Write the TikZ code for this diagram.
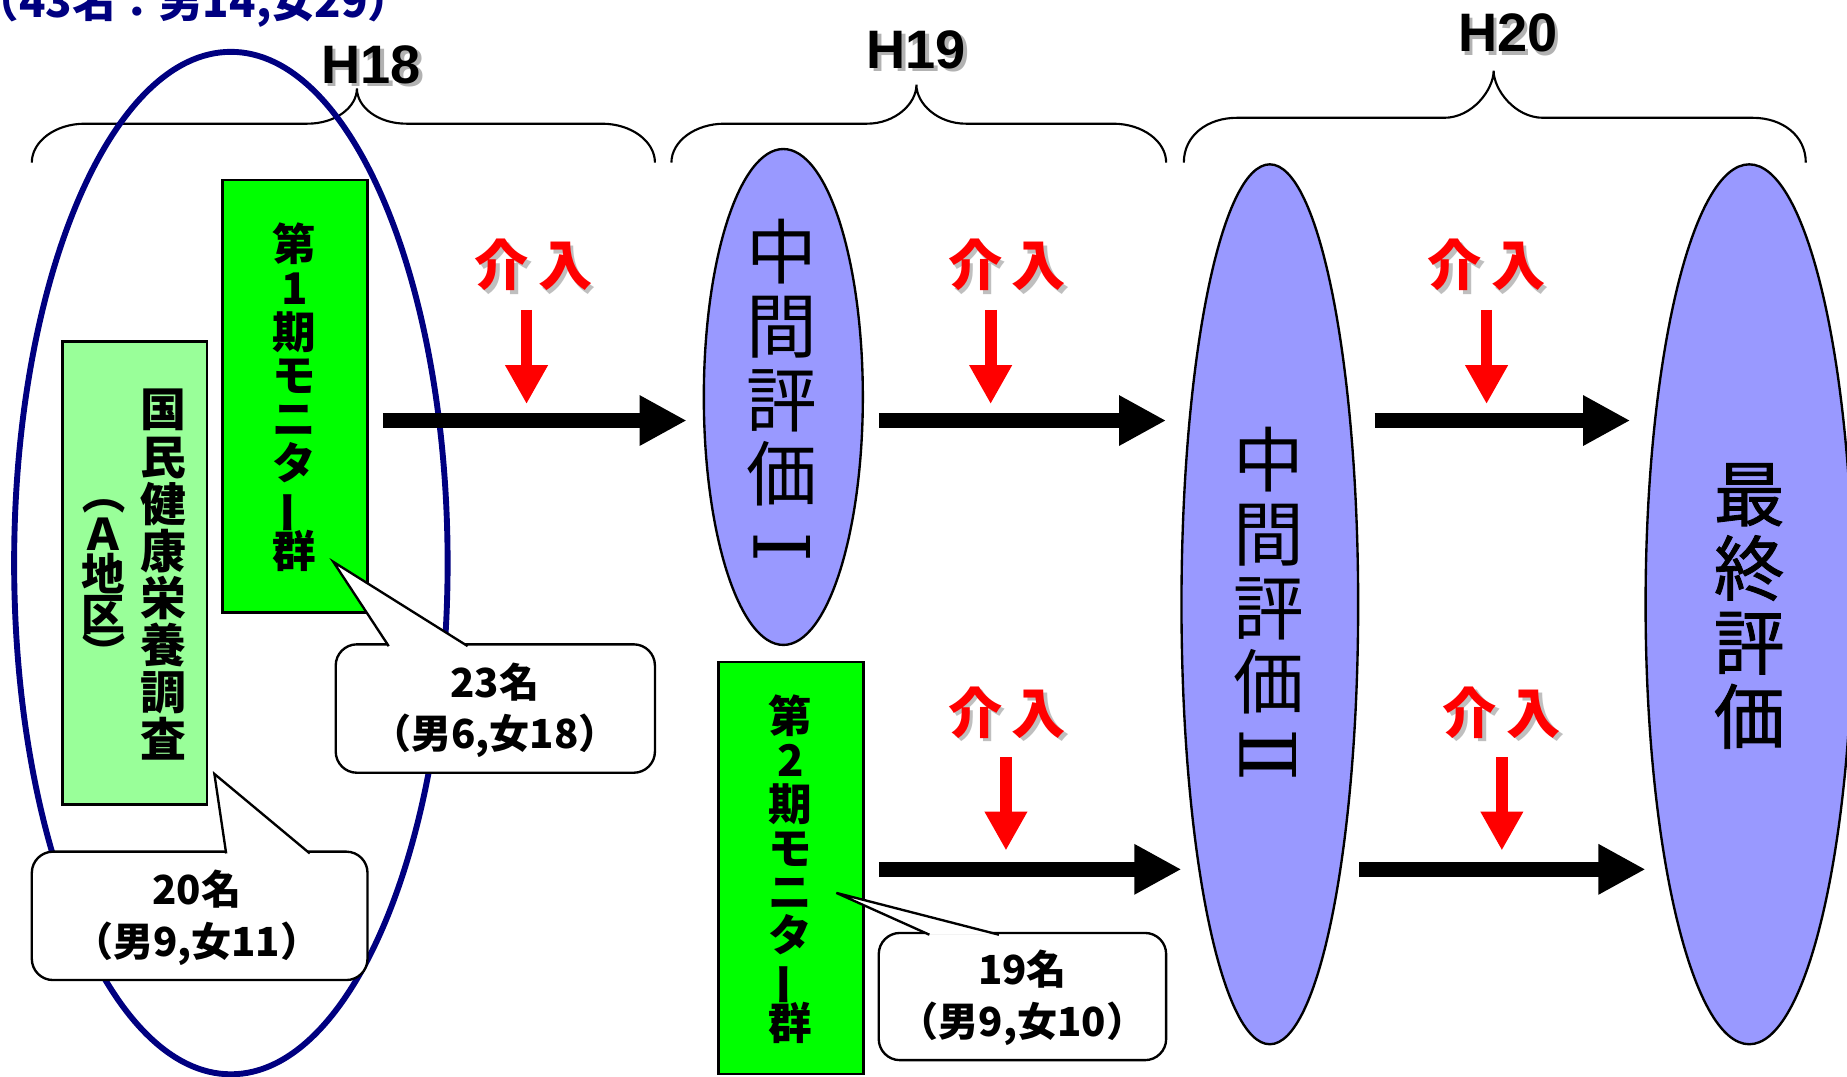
\documentclass[tikz,border=0pt]{standalone}
\usepackage{fontspec}
\usepackage{graphicx}
\usetikzlibrary{shapes.geometric,arrows.meta}
\newfontfamily\jp{Noto Sans CJK JP}
\newfontfamily\jpm{Noto Sans CJK JP}[FakeBold=1.2]
\newfontfamily\rom{DejaVu Serif}
\newfontfamily\lat{Liberation Sans}
\definecolor{navyc}{RGB}{0,0,128}
\definecolor{evalc}{RGB}{153,153,255}
\definecolor{grn}{RGB}{0,255,0}
\definecolor{lgrn}{RGB}{153,255,153}
\lineskiplimit=-100pt
\lineskip=0pt
\newcommand{\vbarchar}{\rotatebox[origin=c]{90}{ー}}
\newcommand{\vlpar}{\rotatebox[origin=c]{-90}{（}}
\newcommand{\vrpar}{\rotatebox[origin=c]{-90}{）}}
\newcommand{\romnum}[1]{\rotatebox[origin=c]{90}{\rom\fontsize{66}{66}\selectfont #1}}
\newcommand{\mybrace}[6]{%
  \draw[bracestyle] (#1,#6) .. controls (#1,{#5+15}) and ({#1+20},#5) .. ({#1+45},#5)
    -- ({#3-42},#5) .. controls ({#3-18},#5) and (#3,{#4+16}) .. (#3,#4)
    .. controls (#3,{#4+16}) and ({#3+18},#5) .. ({#3+42},#5)
    -- ({#2-45},#5) .. controls ({#2-20},#5) and (#2,{#5+15}) .. (#2,#6);}
\begin{document}
\begin{tikzpicture}[x=1pt,y=-1pt,
  bracestyle/.style={draw=black,line width=1.8pt},
  yearlbl/.style={font=\lat\bfseries\fontsize{46}{46}\selectfont, inner sep=0},
  yearshadow/.style={yearlbl, text=black!30},
  evalell/.style={ellipse, draw=black, line width=2pt, fill=evalc, inner sep=0},
  grnbox/.style={draw=black, line width=2pt, fill=grn, inner sep=0},
  lgrnbox/.style={draw=black, line width=2pt, fill=lgrn, inner sep=0},
  vtext/.style={align=center, inner sep=0},
  callbox/.style={draw=black, line width=2pt, fill=white, rounded corners=18pt, inner sep=0},
  callptr/.style={draw=black, line width=2pt, fill=white, line join=miter},
  calltext/.style={align=center, inner sep=0, font=\jp\bfseries\fontsize{34}{44}\selectfont},
  kainyu/.style={text=red, inner sep=0, font=\jp\bfseries\fontsize{46}{46}\selectfont},
  kainyushadow/.style={kainyu, text=black!25},
  bigarr/.style={draw=black, line width=13pt, -{Triangle[length=40pt,width=40pt]}},
  redarr/.style={draw=red, line width=10pt, -{Triangle[length=33pt,width=34pt]}},
]
\clip (0,0) rectangle (1568,914);
\fill[white] (0,0) rectangle (1568,914);

% title
\node[anchor=base west, text=navyc, inner sep=0, font=\jp\bfseries\fontsize{37}{37}\selectfont] (title) at (-21,15) {（43名：男14,女29）};

% braces
\mybrace{27}{556}{303}{75}{105}{138}
\mybrace{570}{990}{778}{72}{105}{138}
\mybrace{1005}{1533}{1268}{60}{100}{138}

% year labels
\node[yearshadow] (h18s) at (318,58) {H18};
\node[yearlbl] (h18) at (315,55) {H18};
\node[yearshadow] (h19s) at (781,45) {H19};
\node[yearlbl] (h19) at (778,42) {H19};
\node[yearshadow] (h20s) at (1283,31) {H20};
\node[yearlbl] (h20) at (1280,28) {H20};

% navy ellipse
\node[ellipse, draw=navyc, line width=5pt, minimum width=368, minimum height=868, inner sep=0] (grp) at (196,478) {};

% boxes
\node[lgrnbox, minimum width=123, minimum height=393] (lg) at (114.5,486.5) {};
\node[vtext, font=\jp\bfseries\fontsize{39}{40}\selectfont] (lgt) at (139,488) {国\\民\\健\\康\\栄\\養\\調\\査};
\node[vtext, font=\jp\bfseries\fontsize{37}{34}\selectfont] (lgt2) at (88,487) {\vlpar\\Ａ\\地\\区\\\vrpar};

\node[grnbox, minimum width=123, minimum height=367] (g1) at (250.5,336.5) {};
\node[vtext, font=\jp\bfseries\fontsize{37}{37.2}\selectfont] (g1t) at (250,337) {第\\1\\期\\モ\\ニ\\タ\\\vbarchar\\群};

\node[grnbox, minimum width=123, minimum height=350] (g2) at (671.5,737) {};
\node[vtext, font=\jp\bfseries\fontsize{37}{37.2}\selectfont] (g2t) at (671,738) {第\\2\\期\\モ\\ニ\\タ\\\vbarchar\\群};

% evaluation ellipses
\node[evalell, minimum width=135, minimum height=421] (e1) at (665,337) {};
\node[vtext, font=\jp\fontsize{60}{63}\selectfont] (e1t) at (664,337) {中\\間\\評\\価\\\romnum{Ⅰ}};
\node[evalell, minimum width=150, minimum height=747] (e2) at (1078,513) {};
\node[vtext, font=\jp\fontsize{60}{63}\selectfont] (e2t) at (1077,513.5) {中\\間\\評\\価\\\romnum{Ⅱ}};
\node[evalell, minimum width=176, minimum height=747] (e3) at (1485,513) {};
\node[vtext, font=\jpm\fontsize{60}{63}\selectfont] (e3t) at (1485,514.5) {最\\終\\評\\価};

% callouts
\node[callbox, minimum width=271, minimum height=109] (c23) at (420.5,601.5) {};
\coordinate (c23tip) at (283,477);
\draw[callptr] (330,548.5) -- (c23tip) -- (397,548.5);
\node[calltext] (c23t) at (420,603) {23名\\（男6,女18）};

\node[callbox, minimum width=285, minimum height=109] (c20) at (169.5,777.5) {};
\coordinate (c20tip) at (182,657);
\draw[callptr] (192,724.5) -- (c20tip) -- (263,724.5);
\node[calltext] (c20t) at (167,779) {20名\\（男9,女11）};

\node[callbox, minimum width=244, minimum height=108] (c19) at (868,846) {};
\coordinate (c19tip) at (710,758);
\draw[callptr] (789,793.5) -- (c19tip) -- (848,793.5);
\node[calltext] (c19t) at (868,847) {19名\\（男9,女10）};

% black arrows
\coordinate (a1s) at (325,357); \coordinate (a1e) at (583,357);
\coordinate (a2s) at (746,357); \coordinate (a2e) at (990,357);
\coordinate (a3s) at (1167,357); \coordinate (a3e) at (1384,357);
\coordinate (a4s) at (746,738); \coordinate (a4e) at (1003,738);
\coordinate (a5s) at (1154,738); \coordinate (a5e) at (1397,738);
\draw[bigarr] (a1s) -- (a1e);
\draw[bigarr] (a2s) -- (a2e);
\draw[bigarr] (a3s) -- (a3e);
\draw[bigarr] (a4s) -- (a4e);
\draw[bigarr] (a5s) -- (a5e);

% intervention labels
\node[kainyushadow] (k1s) at (456,228) {介\hspace{8pt}入};
\node[kainyu] (k1) at (453,225) {介\hspace{8pt}入};
\node[kainyushadow] (k2s) at (858,228) {介\hspace{8pt}入};
\node[kainyu] (k2) at (855,225) {介\hspace{8pt}入};
\node[kainyushadow] (k3s) at (1265,228) {介\hspace{8pt}入};
\node[kainyu] (k3) at (1262,225) {介\hspace{8pt}入};
\node[kainyushadow] (k4s) at (858,608) {介\hspace{8pt}入};
\node[kainyu] (k4) at (855,605) {介\hspace{8pt}入};
\node[kainyushadow] (k5s) at (1278,608) {介\hspace{8pt}入};
\node[kainyu] (k5) at (1275,605) {介\hspace{8pt}入};

% red arrows
\coordinate (r1s) at (447,263); \coordinate (r1e) at (447,343);
\coordinate (r2s) at (841,263); \coordinate (r2e) at (841,343);
\coordinate (r3s) at (1262,263); \coordinate (r3e) at (1262,343);
\coordinate (r4s) at (854,643); \coordinate (r4e) at (854,722);
\coordinate (r5s) at (1275,643); \coordinate (r5e) at (1275,722);
\draw[redarr] (r1s) -- (r1e);
\draw[redarr] (r2s) -- (r2e);
\draw[redarr] (r3s) -- (r3e);
\draw[redarr] (r4s) -- (r4e);
\draw[redarr] (r5s) -- (r5e);
\end{tikzpicture}
\end{document}
